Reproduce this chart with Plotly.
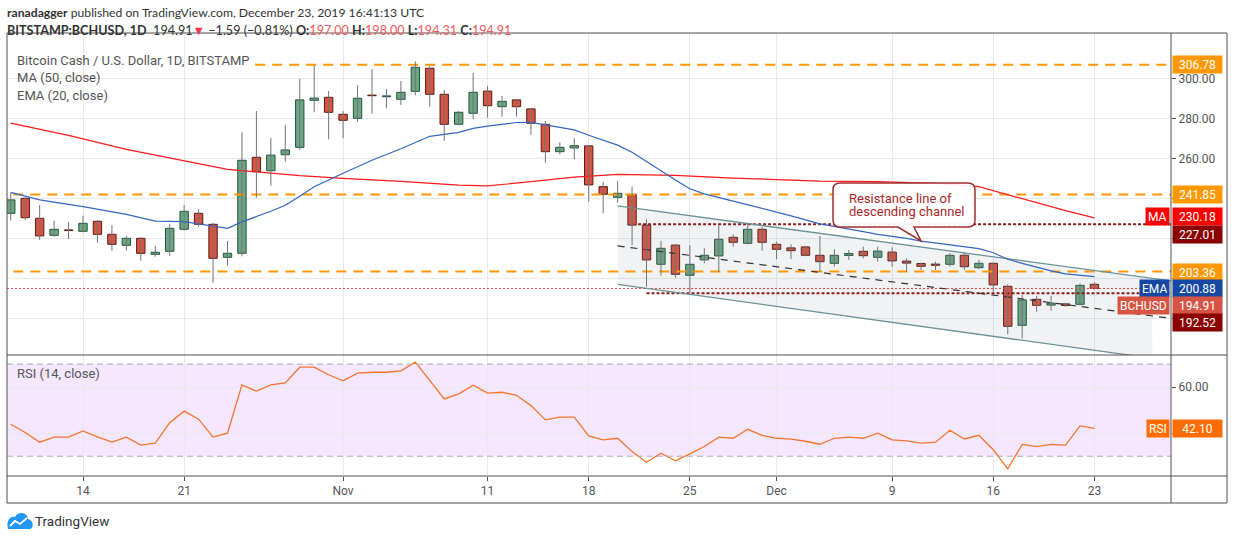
import re

import pandas as pd
import plotly.graph_objects as go

W, H = 1234, 540
FONT = "Roboto"
HEAD_FONT = "Lato"

# daily candles, Oct 9 .. Dec 23 2019
dates = pd.date_range("2019-10-09", "2019-12-23", freq="D")
opens = [232.5, 240.0, 230.0, 221.5, 224.2, 223.5, 228.5, 222.0, 216.5, 220.0,
         212.0, 213.5, 224.5, 232.5, 227.0, 210.5, 212.5, 260.5, 253.8, 261.8,
         265.5, 289.0, 290.5, 282.0, 280.0, 291.6, 290.8, 289.5, 293.5, 305.0,
         292.0, 277.0, 282.5, 293.6, 285.8, 289.2, 284.7, 277.0, 263.3, 265.2,
         266.2, 245.8, 240.5, 242.0, 226.6, 207.0, 216.6, 201.5, 209.2, 211.2,
         220.5, 217.5, 224.5, 217.0, 215.2, 215.7, 211.5, 207.5, 211.4, 213.5,
         210.5, 213.1, 208.6, 207.4, 207.1, 207.0, 211.5, 205.3, 207.5, 196.0,
         176.5, 189.5, 186.6, 187.2, 187.0, 197.0]
highs = [242.8, 240.5, 236.6, 228.8, 228.3, 231.3, 229.2, 226.6, 221.2, 220.5,
         216.2, 227.2, 236.7, 234.5, 227.8, 218.6, 273.0, 283.6, 270.2, 276.6,
         299.7, 306.5, 293.7, 283.6, 296.6, 304.6, 294.7, 298.7, 308.5, 306.2,
         294.2, 283.6, 302.8, 296.2, 291.2, 289.5, 285.0, 278.7, 268.0, 270.0,
         266.5, 248.3, 248.6, 245.8, 229.5, 218.7, 217.2, 216.6, 215.0, 226.6,
         222.0, 227.5, 225.8, 218.3, 217.0, 216.0, 221.2, 214.6, 214.2, 215.8,
         215.8, 215.5, 210.0, 207.8, 208.3, 212.5, 212.8, 209.2, 208.0, 197.0,
         191.6, 191.2, 191.2, 187.8, 197.5, 198.0]
lows = [228.8, 229.0, 219.2, 220.8, 219.7, 223.0, 217.8, 213.8, 213.8, 208.8,
        210.8, 211.2, 223.8, 225.8, 197.8, 206.3, 211.0, 240.3, 246.3, 258.3,
        264.2, 283.0, 269.5, 270.0, 278.3, 282.3, 285.0, 286.7, 291.5, 285.8,
        268.7, 276.5, 279.5, 280.3, 280.8, 280.8, 271.7, 257.8, 262.0, 259.5,
        238.3, 232.5, 237.8, 216.6, 195.8, 201.3, 200.3, 192.5, 207.5, 203.3,
        215.8, 217.0, 213.8, 209.5, 209.6, 211.0, 203.3, 205.8, 209.2, 210.0,
        208.3, 205.8, 203.3, 204.2, 204.2, 205.8, 204.2, 204.5, 193.3, 172.0,
        170.0, 183.3, 183.8, 185.8, 186.5, 194.31]
closes = [239.2, 230.3, 221.2, 224.5, 223.9, 227.5, 222.0, 217.0, 220.0, 212.5,
          213.0, 225.0, 233.5, 227.0, 210.0, 212.5, 259.0, 253.3, 261.6, 264.2,
          289.2, 290.1, 283.0, 279.0, 290.0, 291.3, 291.2, 293.0, 305.5, 292.0,
          277.0, 283.0, 293.0, 286.3, 288.5, 285.8, 277.5, 263.3, 265.5, 266.3,
          246.7, 242.0, 242.5, 226.6, 209.2, 215.0, 202.0, 207.0, 211.5, 219.5,
          218.0, 224.5, 218.0, 214.5, 213.8, 211.5, 208.3, 211.5, 212.4, 211.3,
          213.6, 208.7, 207.6, 206.0, 206.5, 211.5, 205.8, 207.5, 196.7, 176.0,
          189.2, 186.5, 187.6, 186.4, 196.5, 194.91]
rsi = [43.9, 40.3, 36.1, 38.3, 38.3, 41.0, 38.4, 36.1, 38.3, 34.8,
       35.7, 44.6, 49.6, 46.1, 38.3, 40.0, 61.0, 58.3, 61.0, 61.9,
       68.7, 68.7, 65.4, 62.8, 66.1, 66.5, 66.5, 67.1, 70.9, 63.0,
       54.9, 57.1, 60.9, 57.4, 57.8, 56.5, 52.0, 45.8, 47.0, 47.0,
       38.8, 37.1, 37.8, 32.0, 27.4, 31.3, 28.0, 31.0, 34.2, 38.3,
       37.8, 41.7, 39.1, 37.8, 37.4, 36.5, 35.2, 37.8, 38.3, 37.8,
       40.0, 37.1, 36.7, 35.7, 36.1, 41.3, 37.5, 39.1, 32.8, 24.5,
       35.1, 34.2, 35.1, 34.8, 43.2, 42.1]

# moving averages at these candle numbers
ma_days = [0, 4, 8, 10, 12, 15, 17, 20, 23, 27, 31, 33, 36, 39, 42, 46, 50, 56,
           60, 64, 67, 69, 71, 73, 75]
ma_vals = [277.6, 271.5, 264.5, 261.6, 258.8, 254.5, 253.2, 251.3, 250.0, 248.5,
           246.6, 246.2, 248.3, 250.6, 252.0, 251.5, 250.1, 248.6, 248.3, 247.5,
           245.8, 241.8, 237.5, 233.8, 230.18]
ema_days = [0, 2, 5, 8, 10, 12, 15, 16, 18, 19, 20, 21, 23, 25, 27, 28, 29, 31,
            32, 33, 35, 36, 37, 38, 39, 40, 42, 43, 45, 46, 47, 48, 50, 52, 54,
            56, 57, 59, 60, 62, 63, 65, 66, 67, 68, 69, 70, 71, 72, 73, 74, 75]
ema_vals = [243.0, 239.2, 235.8, 232.0, 228.6, 228.3, 225.0, 228.2, 233.5, 236.5,
            241.0, 245.8, 252.5, 259.0, 264.8, 268.0, 271.0, 273.0, 275.0, 276.1,
            277.9, 278.0, 276.8, 275.5, 274.2, 271.5, 266.6, 263.0, 253.6, 249.2,
            244.8, 242.2, 238.6, 235.0, 231.2, 227.2, 225.8, 223.3, 222.0, 220.0,
            218.6, 216.6, 215.8, 214.8, 212.8, 209.5, 207.5, 205.5, 203.7, 202.2,
            201.6, 200.88]

tick_dates = ["2019-10-14", "2019-10-21", "2019-11-01", "2019-11-11", "2019-11-18",
              "2019-11-25", "2019-12-01", "2019-12-09", "2019-12-16", "2019-12-23"]
tick_text = ["14", "21", "Nov", "11", "18", "25", "Dec", "9", "16", "23"]

# horizontal levels drawn on the chart
orange_levels = [306.78, 241.85, 203.36]
orange_starts = ["2019-10-25 22:00", "2019-10-08", "2019-10-08"]
red_levels = [227.01, 192.52]
red_starts = ["2019-11-21 10:00", "2019-11-22"]
last_close = 194.91

# descending channel
chan_dates = ["2019-11-20", "2019-12-29"]
chan_upper = [236.2, 198.0]
chan_mid = [216.2, 179.3]
chan_lower = [197.0, 158.0]
shade_dates = ["2019-11-20", "2019-12-27", "2019-12-27", "2019-11-20"]
shade_prices = [236.2, 199.9, 160.0, 197.0]

X_RANGE = ["2019-10-08 17:45", "2019-12-28 07:10"]
P_RANGE = [161.65, 322.65]
R_RANGE = [21.4, 74.0]

GREEN, GREEN_EDGE = "#6ba583", "#225437"
RED, RED_EDGE = "#d75442", "#5b1a13"
ORANGE = "#ff9800"
DARKRED = "#8b1a1a"
GRID = "#e9e9ea"
FRAME = "#4e4e50"
TEXT = "#555555"


def px(x):
    return x / W


def py(y):
    return 1 - y / H


def pix_path(s):
    # pixel path -> paper path
    return re.sub(r"(-?\d+\.?\d*),(-?\d+\.?\d*)",
                  lambda m: f"{px(float(m.group(1))):.5f},{py(float(m.group(2))):.5f}", s)


fig = go.Figure()

# channel shading and lines
fig.add_trace(go.Scatter(x=shade_dates, y=shade_prices, fill="toself",
                         fillcolor="rgba(125,135,155,0.11)", line=dict(width=0),
                         mode="lines", hoverinfo="skip"))
for lvl, start in zip(orange_levels, orange_starts):
    fig.add_trace(go.Scatter(x=[start, X_RANGE[1]], y=[lvl, lvl], mode="lines",
                             line=dict(color=ORANGE, width=2, dash="10px,7px")))
for lvl, start in zip(red_levels, red_starts):
    fig.add_trace(go.Scatter(x=[start, X_RANGE[1]], y=[lvl, lvl], mode="lines",
                             line=dict(color=DARKRED, width=2, dash="3px,2px")))
fig.add_trace(go.Scatter(x=[X_RANGE[0], X_RANGE[1]], y=[last_close, last_close], mode="lines",
                         line=dict(color="#f0443a", width=1, dash="2px,2px")))
for vals in (chan_upper, chan_lower):
    fig.add_trace(go.Scatter(x=chan_dates, y=vals, mode="lines",
                             line=dict(color="#6a9396", width=1.3)))
fig.add_trace(go.Scatter(x=chan_dates, y=chan_mid, mode="lines",
                         line=dict(color="#333333", width=1.2, dash="7px,6px")))

# moving averages
fig.add_trace(go.Scatter(x=[dates[i] for i in ma_days], y=ma_vals, mode="lines",
                         line=dict(color="#ff1a1a", width=1.2)))
fig.add_trace(go.Scatter(x=[dates[i] for i in ema_days], y=ema_vals, mode="lines",
                         line=dict(color="#3465c4", width=1.2)))

# candle wicks
wx, wy = [], []
for d, hi, lo in zip(dates, highs, lows):
    wx += [d, d, None]
    wy += [lo, hi, None]
fig.add_trace(go.Scatter(x=wx, y=wy, mode="lines", line=dict(color="#737375", width=1)))

# candle bodies
for up, fill, edge in ((True, GREEN, GREEN_EDGE), (False, RED, RED_EDGE)):
    bx, base, height = [], [], []
    for d, o, c in zip(dates, opens, closes):
        if (c >= o) == up:
            bx.append(d)
            base.append(min(o, c))
            height.append(max(abs(c - o), 0.3))
    fig.add_trace(go.Bar(x=bx, y=height, base=base, width=0.58 * 86400000,
                         marker=dict(color=fill, line=dict(color=edge, width=1))))

# RSI panel
fig.add_trace(go.Scatter(x=dates, y=rsi, mode="lines", xaxis="x2", yaxis="y2",
                         line=dict(color="#f7742b", width=1.3)))

shapes = [
    dict(type="rect", xref="x2", yref="y2", x0=X_RANGE[0], x1=X_RANGE[1], y0=30, y1=70,
         fillcolor="rgba(153,21,255,0.1)", line=dict(width=0), layer="below"),
    dict(type="line", xref="x2", yref="y2", x0=X_RANGE[0], x1=X_RANGE[1], y0=70, y1=70,
         line=dict(color="#b3a9b9", width=1, dash="6px,4px")),
    dict(type="line", xref="x2", yref="y2", x0=X_RANGE[0], x1=X_RANGE[1], y0=30, y1=30,
         line=dict(color="#b3a9b9", width=1, dash="6px,4px")),
    # frame
    dict(type="rect", xref="paper", yref="paper", x0=px(7), x1=px(1227), y0=py(503), y1=py(33),
         line=dict(color=FRAME, width=1)),
    dict(type="line", xref="paper", yref="paper", x0=px(7), x1=px(1227), y0=py(355), y1=py(355),
         line=dict(color=FRAME, width=1)),
    dict(type="line", xref="paper", yref="paper", x0=px(7), x1=px(1227), y0=py(476), y1=py(476),
         line=dict(color=FRAME, width=1)),
    dict(type="line", xref="paper", yref="paper", x0=px(1171), x1=px(1171), y0=py(503), y1=py(33),
         line=dict(color=FRAME, width=1)),
    # callout
    dict(type="path", xref="paper", yref="paper",
         path=pix_path("M 840,183 L 968,183 Q 975,183 975,190 L 975,220 Q 975,227 968,227 "
                       "L 914,227 L 921,241 L 898,227 L 840,227 Q 833,227 833,220 "
                       "L 833,190 Q 833,183 840,183 Z"),
         fillcolor="rgba(255,255,255,0.92)", line=dict(color="#9e2f2f", width=1.5)),
    # TradingView logo
    dict(type="path", xref="paper", yref="paper",
         path=pix_path("M 8,529 L 30,529 C 34,529 34,520 28,519 C 27,512 18,511 15,517 "
                       "C 10,516 6,521 8,529 Z"),
         fillcolor="#2196f3", line=dict(width=0)),
    dict(type="path", xref="paper", yref="paper",
         path=pix_path("M 10,526 L 15,521 L 20,524 L 27,518"),
         line=dict(color="white", width=1.8)),
]

ann = []


def text(x, y, s, size=13, color=TEXT, anchor="left", family=FONT):
    ann.append(dict(x=px(x), y=py(y), xref="paper", yref="paper", text=s, showarrow=False,
                    xanchor=anchor, yanchor="middle", font=dict(family=family, size=size, color=color)))


def tag(value, yref, color, shift=0, left=None):
    ann.append(dict(x=px(1171.5), xref="paper", xanchor="left", y=value, yref=yref, yshift=shift,
                    text=f"{value:.2f}", showarrow=False, bgcolor=color, width=45, height=13,
                    borderpad=2, font=dict(family=FONT, size=12, color="white")))
    if left:
        ann.append(dict(x=px(1170), xref="paper", xanchor="right", y=value, yref=yref, yshift=shift,
                        text=left, showarrow=False, bgcolor=color, height=13, borderpad=2,
                        font=dict(family=FONT, size=12, color="white")))


val = "#f25b5b"
text(5, 12, "<b>ranadagger</b> published on TradingView.com, December 23, 2019 16:41:13 UTC",
     size=12.2, color="#333333", family=HEAD_FONT)
text(5, 30, "<b>BITSTAMP:BCHUSD, 1D</b>  194.91<span style='color:#f23645'>▼</span> −1.59 (−0.81%) "
     f"<b>O:</b><span style='color:{val}'>197.00</span> <b>H:</b><span style='color:{val}'>198.00</span> "
     f"<b>L:</b><span style='color:{val}'>194.31</span> <b>C:</b><span style='color:{val}'>194.91</span>",
     size=12.6, color="#333333", family=HEAD_FONT)
text(15, 61, "Bitcoin Cash / U.S. Dollar, 1D, BITSTAMP")
text(15, 78, "MA (50, close)")
text(15, 95, "EMA (20, close)")
text(15, 373, "RSI (14, close)")
text(847, 198, "Resistance line of", size=13, color="#a82828")
text(847, 211, "descending channel", size=13, color="#a82828")
text(33, 521, "TradingView", size=13.5, color="#333333")

tag(306.78, "y", ORANGE)
tag(241.85, "y", ORANGE)
tag(230.18, "y", "#ff0000", shift=1, left="MA")
tag(227.01, "y", "#8b0000", shift=-10)
tag(203.36, "y", ORANGE, shift=-1)
tag(200.88, "y", "#1548a3", shift=-12, left="EMA")
tag(194.91, "y", RED, shift=-17, left="BCHUSD")
tag(192.52, "y", "#8b0000", shift=-29)
tag(42.10, "y2", "#ff6d00", left="RSI")

axis_font = dict(family=FONT, size=12, color=TEXT)
fig.update_layout(
    width=W, height=H, margin=dict(l=0, r=0, t=0, b=0),
    paper_bgcolor="white", plot_bgcolor="white",
    showlegend=False, barmode="overlay", hovermode=False,
    shapes=shapes, annotations=ann,
    xaxis=dict(domain=[px(7), px(1171)], range=X_RANGE, type="date", anchor="y",
               tickvals=tick_dates, showticklabels=False, showgrid=True, gridcolor=GRID,
               zeroline=False, showline=False),
    xaxis2=dict(domain=[px(7), px(1171)], range=X_RANGE, type="date", anchor="y2", matches="x",
                tickvals=tick_dates, ticktext=tick_text, ticks="outside", ticklen=4,
                tickcolor=FRAME, tickfont=axis_font, showgrid=True, gridcolor=GRID,
                zeroline=False, showline=False),
    yaxis=dict(domain=[py(355), py(33)], range=P_RANGE, side="right", anchor="x",
               tickvals=[180, 200, 220, 240, 260, 280, 300],
               ticktext=["", "", "", "", "260.00", "280.00", "300.00"],
               ticks="outside", ticklen=4, tickcolor=FRAME, tickfont=axis_font,
               showgrid=True, gridcolor=GRID, zeroline=False, showline=False),
    yaxis2=dict(domain=[py(476), py(355)], range=R_RANGE, side="right", anchor="x2",
                tickvals=[40, 60], ticktext=["", "60.00"], ticks="outside", ticklen=4,
                tickcolor=FRAME, tickfont=axis_font, showgrid=True, gridcolor=GRID,
                zeroline=False, showline=False),
)

# the page's default body margin would push the figure 8px off the window corner
fig.write_html("out.html", config={"displayModeBar": False},
               post_script="document.body.style.margin='0';")
